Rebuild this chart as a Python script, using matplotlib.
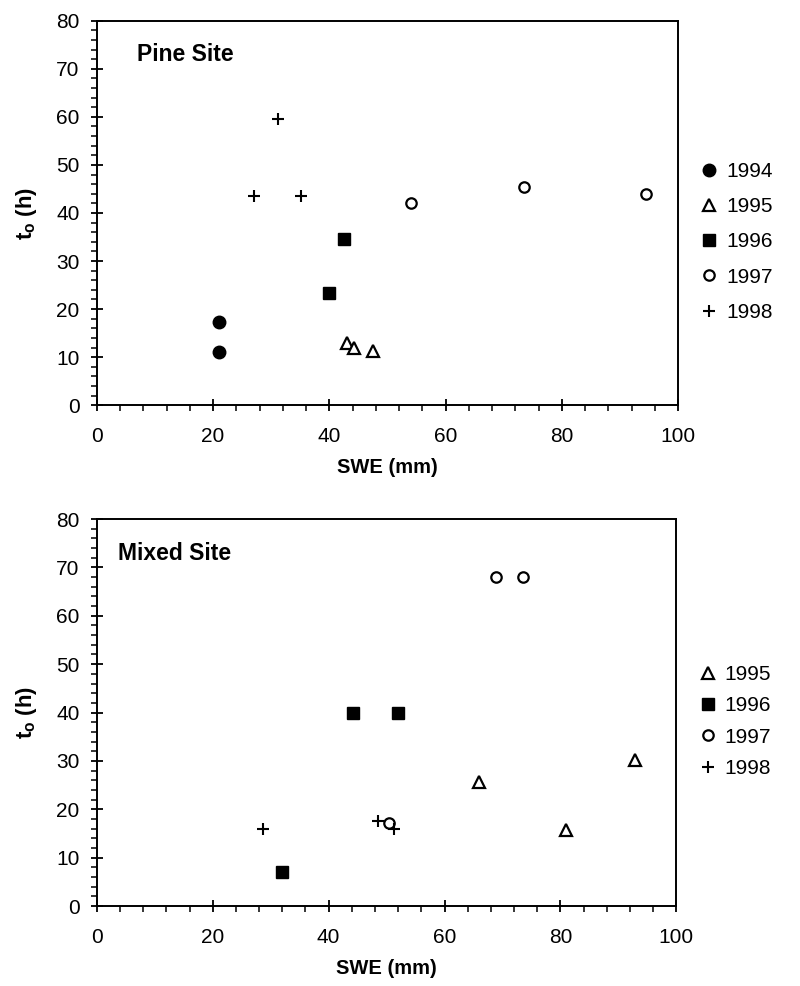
import matplotlib
matplotlib.use("Agg")
import matplotlib.pyplot as plt
from matplotlib.ticker import MultipleLocator

plt.rcParams['font.family'] = ['Liberation Sans', 'DejaVu Sans']
plt.rcParams['mathtext.fontset'] = 'custom'
plt.rcParams['mathtext.rm'] = 'Liberation Sans'
plt.rcParams['mathtext.bf'] = 'Liberation Sans:bold'

# Pine site: SWE (mm) and onset time t_o (h) per year
pine_1994_swe = [21.0, 21.0]
pine_1994_to = [17.4, 11.0]
pine_1995_swe = [43.0, 44.3, 47.6]
pine_1995_to = [12.9, 11.9, 11.3]
pine_1996_swe = [42.6, 40.0]
pine_1996_to = [34.5, 23.4]
pine_1997_swe = [54.0, 73.5, 94.5]
pine_1997_to = [42.0, 45.4, 43.9]
pine_1998_swe = [31.1, 27.0, 35.2]
pine_1998_to = [59.5, 43.5, 43.5]

# Mixed site
mixed_1995_swe = [66.0, 81.0, 92.9]
mixed_1995_to = [25.7, 15.7, 30.2]
mixed_1996_swe = [44.2, 52.0, 32.0]
mixed_1996_to = [40.0, 40.0, 7.1]
mixed_1997_swe = [68.9, 73.5, 50.5]
mixed_1997_to = [68.0, 68.0, 17.2]
mixed_1998_swe = [28.6, 48.5, 51.2]
mixed_1998_to = [16.0, 17.6, 15.9]

styles = {
    '1994': dict(marker='o', ms=9, mfc='black', mec='black', mew=1),
    '1995': dict(marker='^', ms=8, mfc='white', mec='black', mew=1.6),
    '1996': dict(marker='s', ms=8.5, mfc='black', mec='black', mew=1),
    '1997': dict(marker='o', ms=7.5, mfc='white', mec='black', mew=1.6),
    '1998': dict(marker='+', ms=9, mfc='black', mec='black', mew=1.5),
}

pine = [('1994', pine_1994_swe, pine_1994_to),
        ('1995', pine_1995_swe, pine_1995_to),
        ('1996', pine_1996_swe, pine_1996_to),
        ('1997', pine_1997_swe, pine_1997_to),
        ('1998', pine_1998_swe, pine_1998_to)]
mixed = [('1995', mixed_1995_swe, mixed_1995_to),
         ('1996', mixed_1996_swe, mixed_1996_to),
         ('1997', mixed_1997_swe, mixed_1997_to),
         ('1998', mixed_1998_swe, mixed_1998_to)]

fig = plt.figure(figsize=(8, 9.86), dpi=100)
ax1 = fig.add_axes([0.121, 0.589, 0.7265, 0.390])
ax2 = fig.add_axes([0.121, 0.0811, 0.7245, 0.3925])


def draw(ax, groups, title, title_x, legend_y, spacing):
    for year, x, y in groups:
        ax.plot(x, y, linestyle='none', label=year, **styles[year])
    ax.set_xlim(0, 100)
    ax.set_ylim(0, 80)
    ax.xaxis.set_major_locator(MultipleLocator(20))
    ax.xaxis.set_minor_locator(MultipleLocator(4))
    ax.yaxis.set_major_locator(MultipleLocator(10))
    ax.yaxis.set_minor_locator(MultipleLocator(2))
    ax.tick_params(which='major', direction='inout', length=9, width=1.3,
                   labelsize=15, pad=8)
    ax.tick_params(which='minor', direction='out', length=4, width=1.1)
    ax.tick_params(axis='x', which='major', pad=11)
    for s in ax.spines.values():
        s.set_linewidth(1.4)
    ax.set_xlabel('SWE (mm)', fontsize=14.5, fontweight='bold', labelpad=9)
    ax.set_ylabel(r'$\mathbf{t_o}$ (h)', fontsize=16, fontweight='bold',
                  labelpad=12)
    ax.text(title_x, 0.895, title, transform=ax.transAxes, fontsize=16.5,
            fontweight='bold')
    ax.legend(loc='center left', bbox_to_anchor=(1.0, legend_y),
              frameon=False, fontsize=15, handletextpad=0.2,
              handlelength=1.2, labelspacing=spacing, borderaxespad=0.5)


draw(ax1, pine, 'Pine Site', 0.07, 0.425, 0.78)
draw(ax2, mixed, 'Mixed Site', 0.036, 0.477, 0.59)

fig.savefig('out.png', dpi=100)
